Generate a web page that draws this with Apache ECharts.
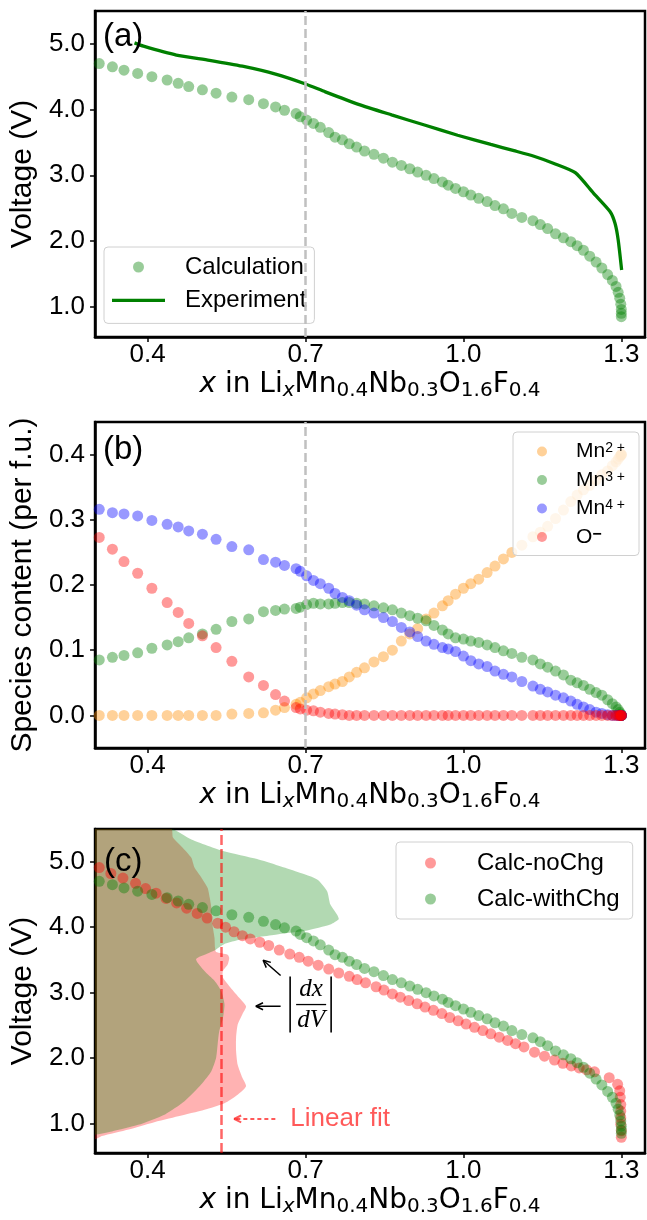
<!DOCTYPE html>
<html><head><meta charset="utf-8">
<script src="https://cdn.jsdelivr.net/npm/echarts@6/dist/echarts.min.js"></script>
<style>html,body{margin:0;padding:0;background:#fff}#c{width:647px;height:1220px}</style>
</head><body><div id="c"></div>
<script>
// ---------- tick labels ----------
const xTicks = [0.4, 0.7, 1.0, 1.3];
const vTicks = [1, 2, 3, 4, 5];
const sTicks = [0, 0.1, 0.2, 0.3, 0.4];

// ---------- calculation (with charge) : composition and voltage ----------
const calcX = [0.308,0.333,0.355,0.381,0.408,0.437,0.458,0.478,0.504,0.530,
  0.560,0.592,0.620,0.643,0.660,0.682,0.690,0.702,0.715,0.728,
  0.744,0.756,0.770,0.783,0.797,0.812,0.830,0.848,0.865,0.882,
  0.898,0.913,0.929,0.944,0.960,0.971,0.985,1.000,1.014,1.029,
  1.045,1.060,1.076,1.092,1.111,1.132,1.146,1.160,1.175,1.190,
  1.204,1.216,1.228,1.240,1.252,1.263,1.274,1.283,1.290,1.294,
  1.297,1.299,1.300,1.300,1.300];
const calcV = [4.70,4.65,4.60,4.55,4.50,4.45,4.40,4.35,4.30,4.25,
  4.19,4.15,4.09,4.04,3.99,3.94,3.89,3.84,3.79,3.73,
  3.65,3.58,3.54,3.48,3.43,3.37,3.32,3.26,3.20,3.15,
  3.10,3.05,3.00,2.95,2.90,2.85,2.80,2.75,2.70,2.65,
  2.60,2.54,2.49,2.42,2.36,2.31,2.25,2.19,2.11,2.05,
  1.99,1.93,1.86,1.77,1.68,1.59,1.49,1.40,1.31,1.22,
  1.13,1.04,0.96,0.90,0.85];

// ---------- experiment ----------
const expX = [0.375,0.392,0.4545,0.5175,0.580,0.643,0.700,0.7375,0.8006,0.8634,0.926,0.989,1.052,1.096,1.134,1.172,1.2125,1.247,1.2785,1.288,1.294,1.3006];
const expV = [5.015,4.965,4.83,4.75,4.66,4.54,4.39,4.27,4.08,3.92,3.765,3.61,3.47,3.375,3.29,3.18,3.04,2.73,2.45,2.27,2.02,1.56];

// ---------- species content (per f.u.) ----------
const mn2 = [0,0,0,0,0,0,0,0,0,0,
  0.002,0.003,0.004,0.008,0.012,0.017,0.020,0.027,0.033,0.038,
  0.044,0.048,0.052,0.059,0.066,0.073,0.082,0.090,0.100,0.114,
  0.125,0.133,0.148,0.157,0.168,0.176,0.186,0.195,0.202,0.209,
  0.219,0.229,0.240,0.250,0.261,0.274,0.281,0.290,0.302,0.315,
  0.328,0.338,0.346,0.353,0.361,0.369,0.375,0.383,0.389,0.393,
  0.397,0.399,0.400,0.400,0.400];
const mn3 = [0.085,0.089,0.092,0.096,0.103,0.108,0.113,0.119,0.125,0.132,
  0.144,0.148,0.159,0.161,0.163,0.164,0.166,0.170,0.172,0.171,
  0.171,0.172,0.173,0.173,0.172,0.171,0.168,0.165,0.162,0.157,
  0.153,0.149,0.145,0.138,0.131,0.125,0.119,0.117,0.114,0.112,
  0.108,0.104,0.099,0.095,0.089,0.085,0.079,0.074,0.068,0.062,
  0.054,0.050,0.046,0.040,0.035,0.031,0.024,0.018,0.013,0.009,
  0.005,0.002,0.000,0.000,0.000];
const mn4 = [0.316,0.311,0.309,0.306,0.299,0.293,0.289,0.283,0.278,0.270,
  0.259,0.254,0.239,0.235,0.230,0.225,0.221,0.214,0.207,0.202,
  0.195,0.187,0.181,0.176,0.169,0.162,0.157,0.150,0.144,0.135,
  0.128,0.121,0.114,0.109,0.104,0.102,0.098,0.091,0.084,0.079,
  0.075,0.068,0.063,0.059,0.052,0.045,0.040,0.036,0.031,0.027,
  0.022,0.017,0.013,0.009,0.005,0.003,0.001,0,0,0,
  0,0,0,0,0];
const oMinus = [0.273,0.255,0.236,0.218,0.195,0.173,0.158,0.141,0.122,0.104,
  0.083,0.059,0.046,0.032,0.022,0.012,0.010,0.008,0.007,0.005,
  0.003,0.002,0.001,0,0,0,0,0,0,0,
  0,0,0,0,0,0,0,0,0,0,
  0,0,0,0,0,0,0,0,0,0,
  0,0,0,0,0,0,0,0,0,0,
  0,0,0,0,0];

// ---------- calculation without charge ----------
const noChgX = [0.308,0.330,0.353,0.377,0.396,0.416,0.435,0.455,0.474,0.494,
  0.513,0.533,0.548,0.564,0.580,0.595,0.613,0.630,0.650,0.670,
  0.688,0.705,0.724,0.744,0.763,0.783,0.798,0.814,0.834,0.849,
  0.865,0.880,0.896,0.912,0.927,0.943,0.959,0.974,0.990,1.005,
  1.021,1.037,1.052,1.068,1.084,1.099,1.115,1.135,1.154,1.173,
  1.189,1.205,1.220,1.234,1.249,1.277,1.293,1.297,1.298,1.299,
  1.299,1.299,1.299,1.300,1.300];
const noChgV = [4.91,4.82,4.75,4.67,4.59,4.52,4.44,4.37,4.29,4.21,
  4.14,4.06,4.00,3.93,3.87,3.82,3.77,3.72,3.65,3.59,
  3.54,3.48,3.42,3.36,3.30,3.25,3.20,3.15,3.09,3.04,
  2.98,2.93,2.88,2.83,2.78,2.73,2.68,2.62,2.57,2.52,
  2.47,2.42,2.37,2.32,2.27,2.22,2.17,2.09,2.03,1.97,
  1.92,1.88,1.85,1.82,1.79,1.70,1.60,1.50,1.40,1.29,
  1.19,1.09,0.99,0.89,0.79];

// ---------- |dx/dV| profiles (x extent at each voltage) ----------
const redFillV = [5.50,5.37,5.21,5.06,4.91,4.76,4.60,4.45,4.30,4.14,3.99,3.84,3.69,3.62,3.58,3.53,3.43,3.33,3.23,3.07,2.92,2.79,2.67,2.51,2.31,2.11,1.90,1.70,1.57,1.44,1.31,1.21,1.11,1.01,0.91,0.81,0.76];
const redFillX = [0.445,0.448,0.467,0.483,0.489,0.502,0.514,0.518,0.521,0.522,0.524,0.527,0.528,0.530,0.552,0.555,0.552,0.543,0.543,0.558,0.574,0.587,0.580,0.571,0.568,0.568,0.571,0.580,0.587,0.571,0.546,0.508,0.458,0.408,0.364,0.313,0.300];
const greenFillV = [5.50,5.34,5.16,5.04,4.88,4.73,4.55,4.35,4.19,4.12,4.04,3.95,3.89,3.81,3.74,3.66,3.60,3.51,3.33,3.18,3.02,2.82,2.61,2.41,2.21,2.00,1.80,1.60,1.34,1.14,0.98,0.88,0.83];
const greenFillX = [0.445,0.483,0.545,0.608,0.671,0.722,0.741,0.747,0.760,0.763,0.747,0.703,0.646,0.577,0.545,0.530,0.515,0.492,0.508,0.527,0.540,0.546,0.543,0.536,0.533,0.530,0.521,0.502,0.470,0.433,0.382,0.332,0.300];
const linearFitX = 0.5365;
const guideX = 0.7;

// ---------- annotation anchors (data units of panel c) ----------
const annArrows = [[0.6526,3.262,0.6194,3.495],[0.6526,2.792,0.6055,2.792]];
const annFitArrow = [0.6426,1.07,0.564,1.07];
const annFitText = [0.671,1.07];
const annFrac = [0.7106,2.818];

const zip = (a, b) => a.map((v, i) => [v, b[i]]);
const FS = 'Liberation Sans';
const XMIN = 0.3, XMAX = 1.345;

const xName = '{i|x}{m| in Li}{si|x}{m|Mn}{s|0.4}{m|Nb}{s|0.3}{m|O}{s|1.6}{m|F}{s|0.4}';
const xRich = {
  m: {fontFamily:'DejaVu Sans', fontSize:28, lineHeight:33, color:'#000'},
  i: {fontFamily:'DejaVu Sans', fontSize:28, lineHeight:33, color:'#000', fontStyle:'italic'},
  s: {fontFamily:'DejaVu Sans', fontSize:20, lineHeight:13, color:'#000', verticalAlign:'bottom'},
  si:{fontFamily:'DejaVu Sans', fontSize:20, lineHeight:13, color:'#000', verticalAlign:'bottom', fontStyle:'italic'}
};

function xAxis(g){
  return {type:'value', gridIndex:g, min:XMIN, max:XMAX,
    axisLine:{show:true, onZero:false, lineStyle:{color:'#000', width:2.5}},
    splitLine:{show:false},
    axisTick:{show:true, length:5, customValues:xTicks, lineStyle:{color:'#000', width:1.5}},
    axisLabel:{customValues:xTicks, formatter:v=>v.toFixed(1), fontSize:26, fontFamily:FS, color:'#000', margin:5},
    name:xName, nameLocation:'middle', nameGap:31,
    nameTextStyle:{fontFamily:'DejaVu Sans', fontSize:28, color:'#000', rich:xRich}};
}
function yAxis(g, min, max, ticks, name){
  return {type:'value', gridIndex:g, min:min, max:max,
    axisLine:{show:true, onZero:false, lineStyle:{color:'#000', width:2.5}},
    splitLine:{show:false},
    axisTick:{show:true, length:5, customValues:ticks, lineStyle:{color:'#000', width:1.5}},
    axisLabel:{customValues:ticks, formatter:v=>v.toFixed(1), fontSize:26, fontFamily:FS, color:'#000', margin:10},
    name:name, nameLocation:'middle', nameRotate:90, nameGap:56,
    nameTextStyle:{fontFamily:FS, fontSize:30, color:'#000'}};
}
function guide(x, color, dash){
  return {silent:true, symbol:['none','none'], label:{show:false}, animation:false,
    lineStyle:{color:color, width:2.5, type:dash, opacity:1}, emphasis:{disabled:true},
    data:[{xAxis:x}]};
}
function scatter(name, g, xs, ys, color, z){
  return {name:name, type:'scatter', xAxisIndex:g, yAxisIndex:g, data:zip(xs, ys),
    symbolSize:11, itemStyle:{color:color}, z:z, silent:true};
}
function fill(name, xs, vs, color, z, extra){
  const s = {name:name, type:'custom', xAxisIndex:2, yAxisIndex:2, clip:true, silent:true, z:z,
    data:[[xs[0], vs[0]]],
    renderItem:(params, api) => {
      const pts = xs.map((x, i) => api.coord([x, vs[i]]));
      pts.push(api.coord([XMIN - 0.02, vs[vs.length-1]]));
      pts.push(api.coord([XMIN - 0.02, vs[0]]));
      return {type:'polygon', shape:{points:pts, smooth:0.2}, style:{fill:color}};
    }};
  return Object.assign(s, extra || {});
}
function arrowParts(p1, p2, color, w, dash){
  const dx = p2[0]-p1[0], dy = p2[1]-p1[1], L = Math.hypot(dx, dy);
  const ux = dx/L, uy = dy/L, hl = 8, a = 0.45;
  const c = Math.cos(a), s = Math.sin(a);
  const h1 = [p2[0]-hl*(ux*c - uy*s), p2[1]-hl*(uy*c + ux*s)];
  const h2 = [p2[0]-hl*(ux*c + uy*s), p2[1]-hl*(uy*c - ux*s)];
  const st = {stroke:color, lineWidth:w};
  return [
    {type:'line', shape:{x1:p1[0], y1:p1[1], x2:p2[0], y2:p2[1]}, style:Object.assign({lineDash:dash||null}, st)},
    {type:'line', shape:{x1:p2[0], y1:p2[1], x2:h1[0], y2:h1[1]}, style:st},
    {type:'line', shape:{x1:p2[0], y1:p2[1], x2:h2[0], y2:h2[1]}, style:st}
  ];
}
const fitColor = 'rgba(255,0,0,0.65)';
const annSeries = {type:'custom', xAxisIndex:2, yAxisIndex:2, silent:true, z:10,
  data:[[annFrac[0], annFrac[1]]],
  renderItem:(params, api) => {
    const ch = [];
    annArrows.forEach(a => { ch.push(...arrowParts(api.coord([a[0],a[1]]), api.coord([a[2],a[3]]), '#000', 1.5)); });
    ch.push(...arrowParts(api.coord([annFitArrow[0],annFitArrow[1]]), api.coord([annFitArrow[2],annFitArrow[3]]), fitColor, 2, [4,3]));
    const t = api.coord(annFitText);
    ch.push({type:'text', x:t[0], y:t[1], style:{text:'Linear fit', font:'26px "Liberation Sans"', fill:fitColor,
      align:'left', verticalAlign:'middle', textAlign:'left', textVerticalAlign:'middle'}});
    const f = api.coord(annFrac);
    const serif = 'italic 25px "Liberation Serif"';
    ch.push({type:'text', x:f[0], y:f[1]-15, style:{text:'dx', font:serif, fill:'#000', align:'center', verticalAlign:'middle', textAlign:'center', textVerticalAlign:'middle'}});
    ch.push({type:'text', x:f[0], y:f[1]+16, style:{text:'dV', font:serif, fill:'#000', align:'center', verticalAlign:'middle', textAlign:'center', textVerticalAlign:'middle'}});
    ch.push({type:'line', shape:{x1:f[0]-15, y1:f[1], x2:f[0]+15, y2:f[1]}, style:{stroke:'#000', lineWidth:1.3}});
    ch.push({type:'line', shape:{x1:f[0]-21, y1:f[1]-28, x2:f[0]-21, y2:f[1]+28}, style:{stroke:'#000', lineWidth:1.6}});
    ch.push({type:'line', shape:{x1:f[0]+20, y1:f[1]-28, x2:f[0]+20, y2:f[1]+28}, style:{stroke:'#000', lineWidth:1.6}});
    return {type:'group', children:ch};
  }};

const GREEN = 'rgba(0,128,0,0.5)', RED = 'rgba(255,0,0,0.5)', BLUE = 'rgba(0,0,255,0.5)', ORANGE = 'rgba(255,140,0,0.5)';
const legendBase = {orient:'vertical', backgroundColor:'rgba(255,255,255,0.8)', borderColor:'#d0d0d0', borderWidth:1,
  borderRadius:4, selectedMode:false};
const dot = n => ({name:n, icon:'circle'});

const chart = echarts.init(document.getElementById('c'), null, {renderer:'canvas'});
chart.setOption({
  animation:false,
  backgroundColor:'#fff',
  grid:[
    {left:92, top:11, width:553, height:326, show:true, borderColor:'#000', borderWidth:2.5, backgroundColor:'transparent'},
    {left:92, top:422, width:553, height:326, show:true, borderColor:'#000', borderWidth:2.5, backgroundColor:'transparent'},
    {left:92, top:829, width:553, height:324, show:true, borderColor:'#000', borderWidth:2.5, backgroundColor:'transparent'}
  ],
  xAxis:[xAxis(0), xAxis(1), xAxis(2)],
  yAxis:[
    yAxis(0, 0.54, 5.5, vTicks, 'Voltage (V)'),
    yAxis(1, -0.05, 0.45, sTicks, 'Species content (per f.u.)'),
    yAxis(2, 0.55, 5.5, vTicks, 'Voltage (V)')
  ],
  legend:[
    Object.assign({}, legendBase, {left:104, top:247, padding:[8,8,11,8], itemWidth:53, itemHeight:11, itemGap:9.4,
      data:[dot('Calculation'), {name:'Experiment', icon:'path://M0,0L53,0L53,3.3L0,3.3Z'}],
      textStyle:{fontFamily:FS, fontSize:24, color:'#000', lineHeight:24, padding:[0,0,0,15]}}),
    Object.assign({}, legendBase, {left:513, top:432, padding:[9,14,8,24], itemWidth:42, itemHeight:10, itemGap:7.5,
      data:[dot('Mn2+'), dot('Mn3+'), dot('Mn4+'), dot('O-')],
      formatter:n => n === 'O-' ? '{m|O}{sb|\u2212}' : '{m|Mn}{s|' + n[2] + ' +}',
      textStyle:{fontFamily:FS, fontSize:21, color:'#000', lineHeight:20, padding:[0,0,0,8],
        rich:{m:{fontFamily:FS, fontSize:21, lineHeight:20, color:'#000'},
              s:{fontFamily:FS, fontSize:14, lineHeight:11, verticalAlign:'top', color:'#000'},
              sb:{fontFamily:FS, fontSize:16, lineHeight:11, verticalAlign:'top', fontWeight:'bold', color:'#000'}}}}),
    Object.assign({}, legendBase, {left:396, top:842, padding:[9,13,8,29], itemWidth:53, itemHeight:11, itemGap:12,
      data:[dot('Calc-noChg'), dot('Calc-withChg')],
      textStyle:{fontFamily:FS, fontSize:24, color:'#000', lineHeight:24, padding:[0,0,0,15]}})
  ],
  graphic:[
    {type:'text', left:103, top:20, z:100, style:{text:'(a)', font:'33px "Liberation Sans"', fill:'#000'}},
    {type:'text', left:103, top:433, z:100, style:{text:'(b)', font:'33px "Liberation Sans"', fill:'#000'}},
    {type:'text', left:104, top:845, z:100, style:{text:'(c)', font:'33px "Liberation Sans"', fill:'#000'}}
  ],
  series:[
    // panel (a)
    scatter('Calculation', 0, calcX, calcV, GREEN, 2),
    {name:'Experiment', type:'line', xAxisIndex:0, yAxisIndex:0, data:zip(expX, expV), smooth:0.2,
      symbol:'none', lineStyle:{color:'#008000', width:3.3}, itemStyle:{color:'#008000'}, z:3, silent:true,
      markLine:guide(guideX, '#c0c0c0', [9,4])},
    // panel (b)
    Object.assign(scatter('Mn2+', 1, calcX, mn2, ORANGE, 2), {markLine:guide(guideX, '#c0c0c0', [9,4])}),
    scatter('Mn3+', 1, calcX, mn3, GREEN, 2),
    scatter('Mn4+', 1, calcX, mn4, BLUE, 2),
    scatter('O-', 1, calcX, oMinus, RED, 2),
    // panel (c)
    fill('redFill', redFillX, redFillV, 'rgba(255,0,0,0.3)', 1),
    fill('greenFill', greenFillX, greenFillV, 'rgba(0,128,0,0.3)', 1,
      {markLine:guide(linearFitX, 'rgba(255,0,0,0.6)', [10,4])}),
    scatter('Calc-noChg', 2, noChgX, noChgV, RED, 3),
    scatter('Calc-withChg', 2, calcX, calcV, GREEN, 3),
    annSeries
  ]
});
</script></body></html>
